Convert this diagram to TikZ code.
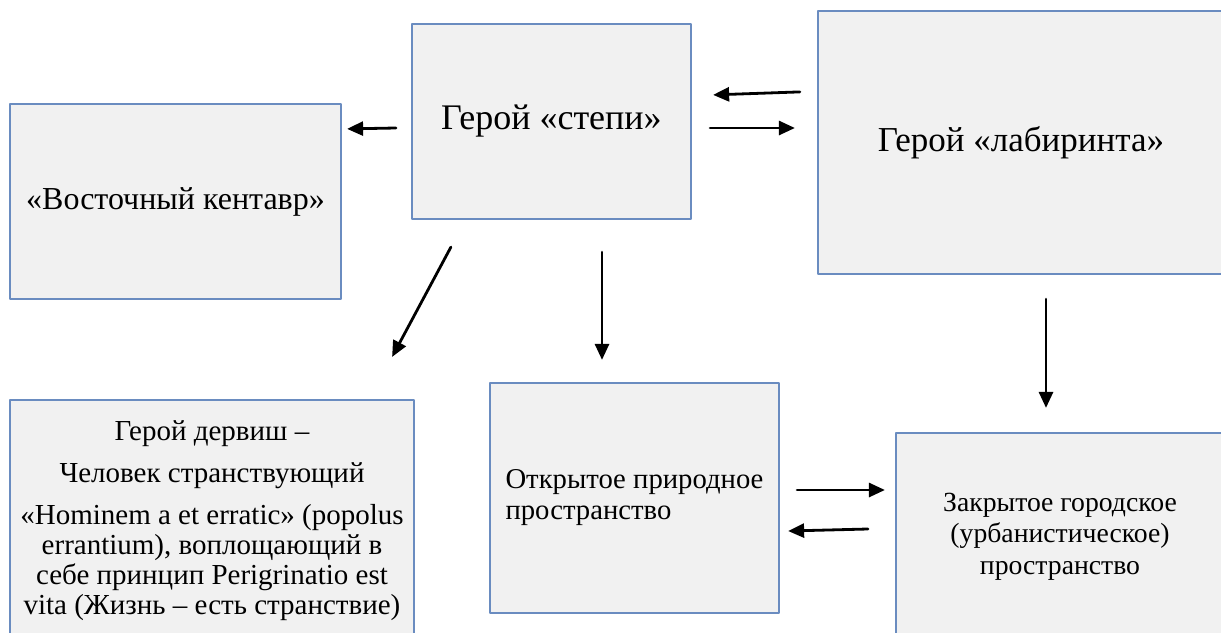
\documentclass[tikz,border=0pt]{standalone}
\usepackage{fontspec}
\newfontfamily\herofont{Liberation Serif}
\usetikzlibrary{arrows.meta, calc}
\definecolor{box_blue}{HTML}{6A8CC0}
\definecolor{box_gray}{HTML}{F1F1F1}

\begin{document}
\begin{tikzpicture}[
                x=1pt,
                y=-1pt,
                line cap=round,
                line join=round,
                hero/.style={draw=box_blue, line width=2.2pt, fill=box_gray, align=center, inner sep=0pt},
                bigtext/.style={font=\herofont\fontsize{36}{42}\selectfont},
                dervtext/.style={font=\herofont\fontsize{29}{30}\selectfont},
                opentext/.style={font=\herofont\fontsize{28.7}{31}\selectfont},
                closedtext/.style={font=\herofont\fontsize{27.7}{31.5}\selectfont},
                arr/.style={-{Triangle[length=16pt,width=14pt]}, line width=2.8pt, black},
            ]
            % Page frame
            \useasboundingbox (0,0) rectangle (1221,632);
            \clip (0,0) rectangle (1221,632);

            % Top row of boxes
            \node[hero, bigtext, font=\herofont\fontsize{32}{38}\selectfont, minimum width=331pt, minimum height=195pt] (centaur) at (175.5,201.5) {«Восточный кентавр»};
            \node[hero, bigtext, minimum width=279pt, minimum height=195pt] (steppe) at (551.5,121.5) {Герой «степи»};
            \node[hero, bigtext, font=\herofont\fontsize{35}{42}\selectfont, minimum width=406pt, minimum height=263pt] (labyrinth) at (1021,142.5) {Герой «лабиринта»};

            % Bottom row of boxes
            \node[hero, dervtext, minimum width=404pt, minimum height=242pt] (dervish) at (212,521)
                {Герой дервиш –\\[12pt] Человек странствующий\\[12pt] «Hominem a et erratic» (popolus\\ errantium), воплощающий в\\ себе принцип Perigrinatio est\\ vita (Жизнь – есть странствие)};
            \node[hero, opentext, align=left, minimum width=289pt, minimum height=230pt] (open) at (634.5,498)
                {Открытое природное\\ пространство};
            \node[hero, closedtext, minimum width=328pt, minimum height=207pt] (closed) at (1060,536.5)
                {Закрытое городское\\ (урбанистическое)\\ пространство};

            % Arrows between the heroes
            \draw[arr] ($(steppe.west)+(-15,6.5)$) -- ($(centaur.north east)+(5,26)$);
            \draw[arr] ($(labyrinth.north west)+(-17,82)$) -- ($(steppe.north east)+(21,72)$);
            \draw[arr] ($(steppe.east)+(18,6.5)$) -- ($(labyrinth.west)+(-22,-14.5)$);

            % Arrows down to the spaces
            \draw[arr] ($(steppe.south west)+(40,27)$) -- ($(dervish.north east)+(-23,-42)$);
            \draw[arr] ($(steppe.south)+(50.5,32)$) -- ($(open.north)+(-32.5,-22)$);
            \draw[arr] ($(labyrinth.south)+(25,24)$) -- ($(closed.north)+(-14,-24)$);

            % Arrows between the spaces
            \draw[arr] ($(open.east)+(17,-8)$) -- ($(closed.west)+(-10,-46.5)$);
            \draw[arr] ($(closed.west)+(-27,-7.5)$) -- ($(open.east)+(8,33)$);
        \end{tikzpicture}
\end{document}
